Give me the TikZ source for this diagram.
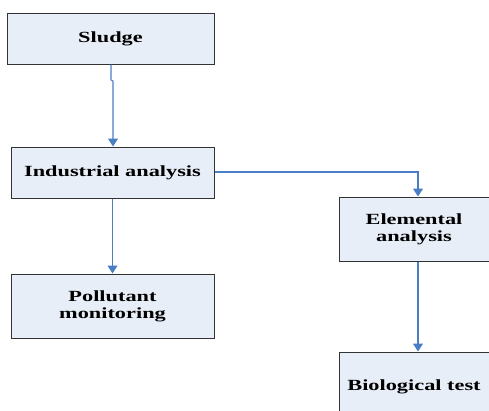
\documentclass[tikz,border=0pt]{standalone}
\usepackage{fontspec}
\setmainfont{Liberation Serif}
\usetikzlibrary{arrows.meta}
\definecolor{boxfill}{HTML}{E8EEF8}
\definecolor{boxline}{HTML}{333333}
\definecolor{arrowblue}{HTML}{4A7EC4}
\newcommand{\lbl}[1]{\scalebox{1.44}[1]{#1}}
\begin{document}
\begin{tikzpicture}[x=1pt,y=-1pt,
  flowbox/.style={draw=boxline, line width=1pt, fill=boxfill, inner sep=0pt,
    font=\fontsize{15.5}{17}\selectfont\bfseries, align=center},
  flowarrow/.style={draw=arrowblue, line width=1.1pt, -{Triangle[length=8pt,width=10pt]}}]
\useasboundingbox (0,0) rectangle (489,410);
\node[flowbox, minimum width=207pt, minimum height=51pt] (sludge) at (110.5,38.5) {\lbl{Sludge}};
\node[flowbox, minimum width=203pt, minimum height=51pt] (indus) at (112.5,172.5) {\lbl{Industrial analysis}};
\node[flowbox, minimum width=203pt, minimum height=64pt] (poll) at (112.5,306) {\lbl{Pollutant}\\\lbl{monitoring}};
\node[flowbox, minimum width=150pt, minimum height=64pt] (elem) at (414,229) {\lbl{Elemental}\\\lbl{analysis}};
\node[flowbox, minimum width=150pt, minimum height=70pt] (bio) at (414,387) {\lbl{Biological test}};
\coordinate (j1) at (111,80);
\coordinate (j2) at (113,81);
\draw[flowarrow] ([xshift=0.5pt]sludge.south) -- (j1) -- (j2) -- (j2 |- indus.north);
\draw[flowarrow] (indus.south) -- (poll.north);
\coordinate (c1) at (418,172);
\draw[flowarrow] (indus.east |- c1) -- (c1) -- (c1 |- elem.north);
\draw[flowarrow] ([xshift=4pt]elem.south) -- ([xshift=4pt]bio.north);
\end{tikzpicture}
\end{document}
